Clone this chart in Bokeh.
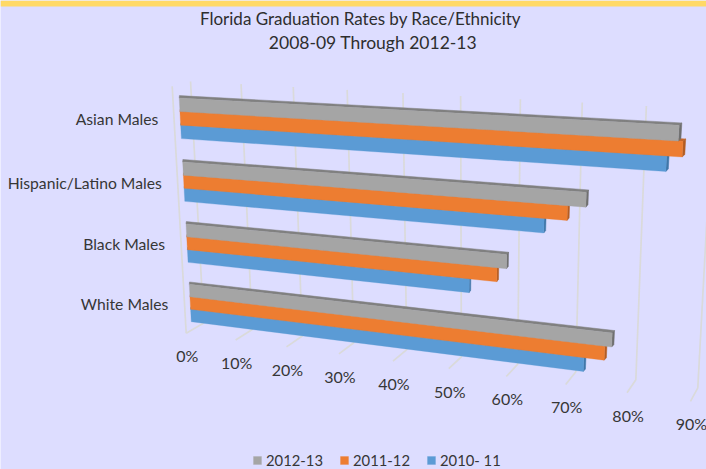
import numpy as np
from bokeh.core.properties import value
from bokeh.embed import file_html
from bokeh.models import Legend, LegendItem, Range1d
from bokeh.plotting import figure
from bokeh.resources import INLINE

# ---- data -----------------------------------------------------------------
categories = ["Asian Males", "Hispanic/Latino Males", "Black Males", "White Males"]
series_names = ["2012-13", "2011-12", "2010- 11"]
rates_2012_13 = [85.5, 71.9, 59.3, 76.9]
rates_2011_12 = [86.2, 69.0, 57.7, 75.8]
rates_2010_11 = [83.9, 65.3, 53.0, 72.5]
tick_values = [0, 10, 20, 30, 40, 50, 60, 70, 80, 90]
tick_labels = ["0%", "10%", "20%", "30%", "40%", "50%", "60%", "70%", "80%", "90%"]
title_lines = ["Florida Graduation Rates by Race/Ethnicity", "2008-09 Through 2012-13"]

# ---- styles ----------------------------------------------------------------
BG = "#DDDDFF"
FRONT = ["#A5A5A5", "#ED7D31", "#5B9BD5"]
TOP = ["#808080", "#C4672A", "#4A82B5"]
SIDE = ["#6F6F6F", "#B35C22", "#3F76A8"]
GRID = "#DADADA"
TEXT = "#363636"
FONT = value("Lato")


# ---- the 3-D view: homographies from (value, depth-in-plot) to the picture --
def homography(src, dst):
    rows, rhs = [], []
    for (u, w), (x, y) in zip(src, dst):
        rows.append([u, w, 1, 0, 0, 0, -u * x, -w * x])
        rows.append([0, 0, 0, u, w, 1, -u * y, -w * y])
        rhs += [x, y]
    sol = np.linalg.lstsq(np.array(rows, float), np.array(rhs, float), rcond=None)[0]
    return np.append(sol, 1).reshape(3, 3)


def apply(H, u, w):
    p = H @ np.array([u, w, 1.0])
    return float(p[0] / p[2]), float(p[1] / p[2])


unit = [(0, 0), (90, 0), (0, 1), (90, 1)]
H_bars = homography(unit, [(178.7, 97.5), (709.6, 126.5), (190.7, 319.5), (693.0, 383.0)])

# view calibration: floor and back-wall corners seen at the gridlines
cal_v = [0, 10, 20, 30, 70, 80, 90]
floor_front = [(186, 333), (235, 340), (286, 347), (338, 353), (565, 383), (627, 392), (690, 401)]
floor_back = [(203, 322), (252, 329), (302, 335), (353, 342), (576, 373), (635, 379), (697, 387)]
wall_top = [(190, 81), (240, 84), (293, 87), (347, 89.5), (582, 102), (646, 105), (712, 108.5)]
H_floor = homography([(v, 0) for v in cal_v] + [(v, 1) for v in cal_v], floor_front + floor_back)
H_wall = homography([(v, 0) for v in cal_v] + [(v, 1) for v in cal_v], wall_top + floor_back)

ROW_PITCH = 0.2775
BAR_H = 0.0585
DEPTH_Y = -2.4


def back(x, y):
    return x + 0.2 + 2.4 * (x - 178) / 500, y + DEPTH_Y


p = figure(
    width=706, height=469, output_backend="svg", toolbar_location=None,
    x_range=Range1d(0, 706), y_range=Range1d(469, 0),
    min_border=0, background_fill_color=BG, border_fill_color=BG, outline_line_color=None,
)
p.axis.visible = False
p.grid.visible = False

# header strip
p.quad(left=[0], right=[706], top=[0], bottom=[6], fill_color="#FFD966", line_color=None)

# gridlines: side wall edge, floor lines, back wall lines
grid_x, grid_y = [], []
for v in tick_values:
    fx, fy = apply(H_floor, v, 0)
    bx, by = apply(H_floor, v, 1)
    tx, ty = apply(H_wall, v, 0)
    grid_x.append([fx, bx, tx])
    grid_y.append([fy, by, ty])
lx0, ly0 = apply(H_floor, 0, 0)
grid_x.append([lx0, lx0 - 14])
grid_y.append([ly0, ly0 - 247])
p.multi_line(grid_x, grid_y, line_color=GRID, line_width=1.7)

# bars
series = [rates_2012_13, rates_2011_12, rates_2010_11]
legend_items = []
for j in [2, 1, 0]:
    tops, sides, fronts = ([], []), ([], []), ([], [])
    for i, val in enumerate(series[j]):
        r0 = i * ROW_PITCH + j * BAR_H
        r1 = r0 + BAR_H
        a = apply(H_bars, 0, r0)
        b = apply(H_bars, val, r0)
        c = apply(H_bars, val, r1)
        d = apply(H_bars, 0, r1)
        ba, bb, bc = back(*a), back(*b), back(*c)
        for store, pts in ((tops, [a, b, bb, ba]), (sides, [b, bb, bc, c]), (fronts, [a, b, c, d])):
            store[0].append([q[0] for q in pts])
            store[1].append([q[1] for q in pts])
    p.patches(tops[0], tops[1], fill_color=TOP[j], line_color=TOP[j], line_width=0.5)
    p.patches(sides[0], sides[1], fill_color=SIDE[j], line_color=SIDE[j], line_width=0.5)
    r = p.patches(fronts[0], fronts[1], fill_color=FRONT[j], line_color=FRONT[j], line_width=0.3)
    legend_items.insert(0, LegendItem(label=series_names[j], renderers=[r]))

# value tick labels
tx, ty = [], []
for v in tick_values:
    fx, fy = apply(H_floor, v, 0)
    tx.append(fx + 1)
    ty.append(fy + 22.5)
p.text(tx, ty, text=tick_labels, text_font=FONT, text_font_size="16px", text_color=TEXT,
       text_align="center", text_baseline="middle")

# category labels
cx, cy = [], []
for i in range(len(categories)):
    mx, my = apply(H_bars, 0, i * ROW_PITCH + 1.5 * BAR_H)
    cx.append(mx - 22)
    cy.append(my + 1)
p.text(cx, cy, text=categories, text_font=FONT, text_font_size="15.7px", text_color=TEXT,
       text_align="right", text_baseline="middle")

# title
p.text([360], [18], text=title_lines[:1], text_font=FONT, text_font_size="17px",
       text_color="#2E2E2E", text_align="center", text_baseline="middle")
p.text([372.5], [42], text=title_lines[1:], text_font=FONT, text_font_size="17.5px",
       text_color="#2E2E2E", text_align="center", text_baseline="middle")

legend = Legend(
    items=legend_items, orientation="horizontal", location=(252, 0),
    background_fill_alpha=0, border_line_color=None, padding=0, margin=0,
    glyph_width=10, glyph_height=10, label_standoff=4, spacing=16,
    label_text_font="Lato", label_text_font_size="14.8px", label_text_color=TEXT,
    label_height=14,
)
p.add_layout(legend, "center")

open("out.html", "w").write(file_html(p, INLINE))
